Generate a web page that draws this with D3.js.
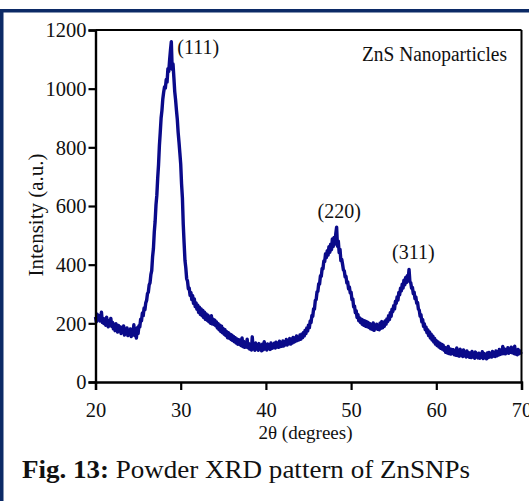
<!DOCTYPE html>
<html>
<head>
<meta charset="utf-8">
<script src="https://cdn.jsdelivr.net/npm/d3@7"></script>
<style>
  html, body { margin: 0; padding: 0; background: #fff; }
  svg { display: block; }
</style>
</head>
<body>
<svg id="chart" width="529" height="501"></svg>
<script>
// Powder XRD scan of ZnS nanoparticles: counts sampled every 0.1 degree of 2θ
const angleStart = 20;
const angleStep = 0.1;
const intensity = [
  // 20.x
  222, 205, 231, 214, 226, 208, 219, 238, 203, 217,
  // 21.x
  199, 214, 193, 221, 205, 188, 209, 196, 217, 190,
  // 22.x
  203, 181, 196, 175, 199, 187, 170, 193, 178, 188,
  // 23.x
  165, 186, 172, 191, 160, 179, 168, 184, 158, 176,
  // 24.x
  162, 181, 155, 174, 166, 195, 158, 177, 150, 185,
  // 25.x
  165, 192, 188, 214, 209, 235, 226, 252, 246, 270,
  // 26.x
  278, 301, 306, 331, 338, 366, 380, 427, 455, 512,
  // 27.x
  548, 604, 637, 695, 741, 806, 851, 900, 926, 965,
  // 28.x
  988, 1006, 1002, 1031, 1022, 1068, 1059, 1098, 1131, 1160,
  // 29.x
  1066, 1084, 1038, 990, 962, 927, 896, 851, 818, 781,
  // 30.x
  744, 676, 628, 537, 474, 415, 389, 352, 344, 318,
  // 31.x
  320, 296, 305, 281, 294, 268, 283, 257, 270, 248,
  // 32.x
  262, 238, 255, 231, 249, 226, 244, 220, 238, 214,
  // 33.x
  232, 210, 228, 205, 221, 200, 226, 198, 214, 196,
  // 34.x
  211, 192, 205, 184, 199, 178, 194, 172, 190, 168,
  // 35.x
  182, 163, 178, 158, 172, 151, 168, 149, 163, 145,
  // 36.x
  160, 141, 155, 137, 151, 133, 147, 129, 144, 128,
  // 37.x
  142, 124, 150, 121, 138, 118, 135, 119, 146, 117,
  // 38.x
  131, 112, 128, 109, 154, 114, 127, 108, 133, 115,
  // 39.x
  126, 108, 131, 112, 124, 106, 129, 110, 137, 113,
  // 40.x
  125, 109, 130, 114, 127, 111, 133, 115, 128, 117,
  // 41.x
  132, 116, 136, 119, 131, 118, 139, 121, 134, 122,
  // 42.x
  140, 123, 137, 127, 145, 126, 141, 130, 148, 129,
  // 43.x
  147, 133, 152, 136, 149, 139, 157, 141, 153, 144,
  // 44.x
  160, 146, 163, 151, 168, 157, 176, 165, 184, 174,
  // 45.x
  194, 185, 208, 203, 227, 224, 250, 249, 278, 281,
  // 46.x
  307, 309, 335, 334, 362, 360, 387, 386, 413, 411,
  // 47.x
  437, 424, 448, 433, 461, 442, 470, 451, 488, 462,
  // 48.x
  493, 470, 505, 528, 463, 480, 441, 452, 414, 418,
  // 49.x
  401, 382, 379, 358, 360, 337, 341, 318, 324, 303,
  // 50.x
  306, 281, 283, 256, 259, 236, 243, 220, 230, 209,
  // 51.x
  219, 203, 214, 197, 211, 193, 208, 190, 206, 188,
  // 52.x
  203, 186, 199, 181, 196, 179, 201, 176, 194, 182,
  // 53.x
  197, 180, 193, 178, 200, 183, 206, 185, 203, 190,
  // 54.x
  208, 197, 215, 206, 226, 213, 236, 224, 248, 240,
  // 55.x
  260, 249, 275, 268, 290, 279, 305, 297, 320, 311,
  // 56.x
  333, 320, 347, 331, 356, 339, 362, 351, 384, 342,
  // 57.x
  338, 320, 322, 301, 306, 284, 290, 268, 271, 249,
  // 58.x
  245, 224, 229, 205, 213, 190, 198, 178, 187, 168,
  // 59.x
  178, 158, 171, 150, 163, 143, 156, 136, 149, 129,
  // 60.x
  141, 124, 137, 119, 132, 115, 129, 112, 126, 108,
  // 61.x
  118, 101, 116, 99, 121, 97, 113, 95, 111, 98,
  // 62.x
  110, 93, 107, 91, 116, 90, 105, 88, 112, 92,
  // 63.x
  104, 87, 109, 89, 101, 85, 106, 88, 100, 84,
  // 64.x
  99, 83, 104, 86, 97, 81, 102, 85, 96, 82,
  // 65.x
  98, 81, 95, 84, 103, 80, 97, 83, 94, 79,
  // 66.x
  99, 83, 101, 86, 97, 85, 104, 88, 100, 87,
  // 67.x
  106, 89, 103, 92, 111, 94, 108, 96, 121, 97,
  // 68.x
  113, 96, 110, 99, 117, 98, 112, 101, 119, 100,
  // 69.x
  115, 97, 122, 95, 108, 93, 111, 96, 106, 99,
  // 70.0
  103
];

// Miller-index labels for the reflections
const peakLabels = ["(111)", "(220)", "(311)"];
const peakAngles = [28.9, 48.3, 56.8];
const peakHeights = [1160, 528, 384];

const xTicks = [20, 30, 40, 50, 60, 70];
const yTicks = [0, 200, 400, 600, 800, 1000, 1200];

const xTitle = "2θ (degrees)";
const yTitle = "Intensity (a.u.)";
const insetTitle = "ZnS Nanoparticles";
const captionBold = "Fig. 13:";
const captionText = " Powder XRD pattern of ZnSNPs";

const serif = "'Liberation Serif', 'Times New Roman', serif";
const svg = d3.select("#chart");

// page frame: navy rule across the top and down the left
const frameColor = "#0c2a66";
svg.append("rect").attr("x", 0).attr("y", 9).attr("width", 529).attr("height", 3.5).attr("fill", frameColor);
svg.append("rect").attr("x", 0).attr("y", 9).attr("width", 3.5).attr("height", 492).attr("fill", frameColor);

const plot = { left: 95.5, right: 521.5, top: 30, bottom: 382 };

const x = d3.scaleLinear().domain([20, 70]).range([plot.left, plot.right]);
const y = d3.scaleLinear().domain([0, 1200]).range([plot.bottom, plot.top]);

const series = intensity.map((v, i) => ({ a: angleStart + i * angleStep, v }));

// diffraction trace
svg.append("path")
  .datum(series)
  .attr("fill", "none")
  .attr("stroke", "#0a0a8a")
  .attr("stroke-width", 3.4)
  .attr("stroke-linejoin", "round")
  .attr("d", d3.line().x(d => x(d.a)).y(d => y(d.v)));

// plot box: top and right edges
svg.append("line").attr("x1", plot.left).attr("x2", plot.right).attr("y1", plot.top).attr("y2", plot.top)
  .attr("stroke", "#000").attr("stroke-width", 2);
svg.append("line").attr("x1", plot.right).attr("x2", plot.right).attr("y1", plot.top).attr("y2", plot.bottom)
  .attr("stroke", "#000").attr("stroke-width", 2);

// axes
const xAxis = svg.append("g")
  .attr("transform", `translate(0,${plot.bottom})`)
  .call(d3.axisBottom(x).tickValues(xTicks).tickSize(8).tickPadding(12).tickFormat(d3.format("d")));
const yAxis = svg.append("g")
  .attr("transform", `translate(${plot.left},0)`)
  .call(d3.axisLeft(y).tickValues(yTicks).tickSize(7).tickPadding(2).tickFormat(d3.format("d")));

[xAxis, yAxis].forEach(g => {
  g.attr("font-family", null);
  g.select(".domain").attr("stroke", "#000").attr("stroke-width", 2.4);
  g.selectAll(".tick line").attr("stroke", "#000").attr("stroke-width", 2.2);
  g.selectAll(".tick text")
    .style("font-family", serif)
    .style("font-size", "20.5px")
    .attr("fill", "#111");
});
yAxis.selectAll(".tick text").attr("dy", "0.34em");
xAxis.selectAll(".tick text").attr("dy", "0.71em");

// axis titles
svg.append("text")
  .attr("x", (plot.left + plot.right) / 2 - 3)
  .attr("y", 439)
  .attr("text-anchor", "middle")
  .style("font-family", serif)
  .style("font-size", "19px")
  .attr("fill", "#111")
  .text(xTitle);

svg.append("text")
  .attr("transform", "translate(43,215) rotate(-90)")
  .attr("text-anchor", "middle")
  .style("font-family", serif)
  .style("font-size", "21px")
  .attr("fill", "#111")
  .text(yTitle);

// inset title
svg.append("text")
  .attr("x", 507)
  .attr("y", 61)
  .attr("text-anchor", "end")
  .style("font-family", serif)
  .style("font-size", "20px")
  .attr("fill", "#111")
  .attr("textLength", 145)
  .attr("lengthAdjust", "spacingAndGlyphs")
  .text(insetTitle);

// reflection labels, set beside / above each peak
const labelOffsets = [[6, 12], [-19, -9], [-17, -10]];
svg.selectAll("text.peak")
  .data(peakLabels)
  .join("text")
  .attr("class", "peak")
  .attr("x", (d, i) => x(peakAngles[i]) + labelOffsets[i][0])
  .attr("y", (d, i) => y(peakHeights[i]) + labelOffsets[i][1])
  .style("font-family", serif)
  .style("font-size", "20px")
  .attr("fill", "#111")
  .text(d => d);

// figure caption
const cap = svg.append("text")
  .attr("x", 22)
  .attr("y", 478)
  .style("font-family", serif)
  .style("font-size", "25px")
  .attr("fill", "#111")
  .attr("textLength", 448)
  .attr("lengthAdjust", "spacingAndGlyphs");
cap.append("tspan").attr("font-weight", "bold").text(captionBold);
cap.append("tspan").text(captionText);
</script>
</body>
</html>
